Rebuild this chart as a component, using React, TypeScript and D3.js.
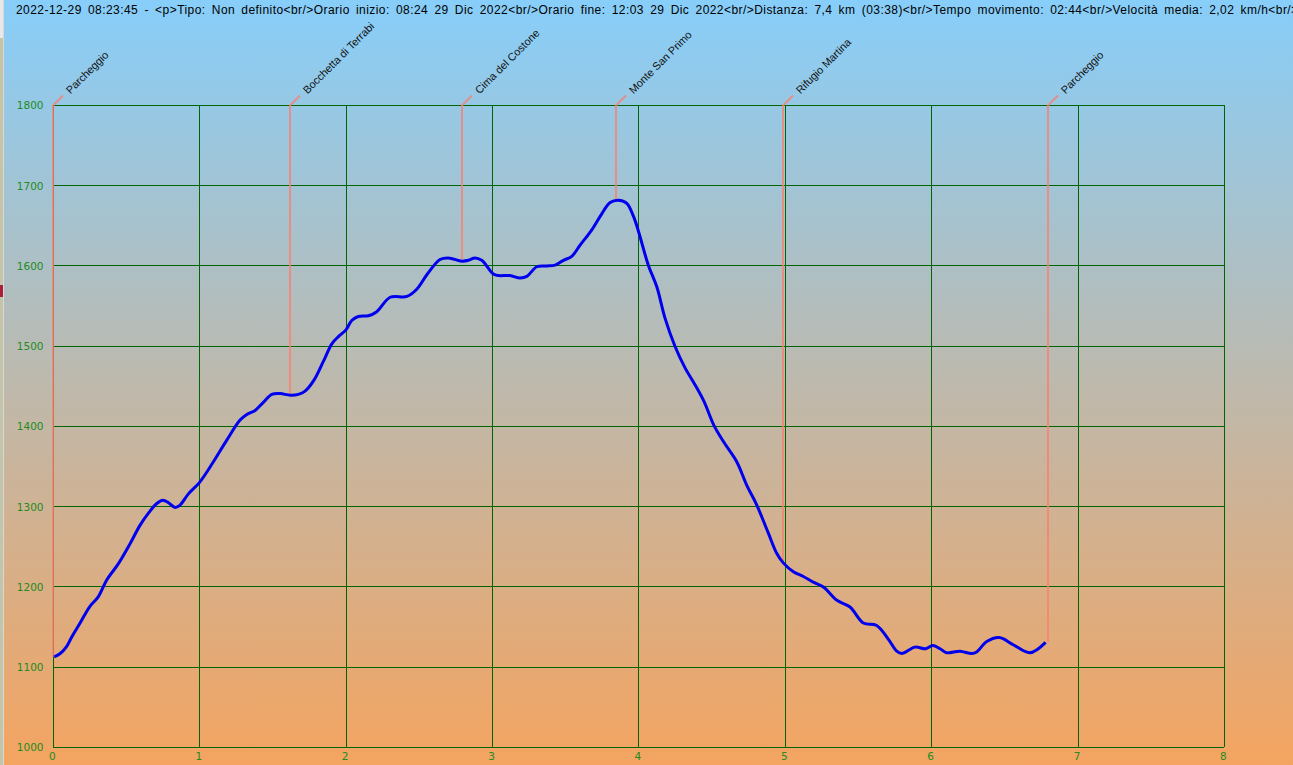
import React from "react";
import * as d3 from "d3";

const titleText = "2022-12-29 08:23:45 - <p>Tipo: Non definito<br/>Orario inizio: 08:24 29 Dic 2022<br/>Orario fine: 12:03 29 Dic 2022<br/>Distanza: 7,4 km (03:38)<br/>Tempo movimento: 02:44<br/>Velocità media: 2,02 km/h<br/>V";

const distanceKm = [0.005,0.046,0.087,0.126,0.182,0.246,0.307,0.365,0.444,0.524,0.592,0.649,0.706,0.747,0.786,0.831,0.865,0.922,0.997,1.093,1.184,1.275,1.321,1.378,1.434,1.492,1.548,1.617,1.673,1.719,1.781,1.844,1.902,1.947,1.997,2.038,2.083,2.152,2.209,2.3,2.414,2.482,2.551,2.641,2.698,2.79,2.835,2.88,2.926,3.005,3.04,3.119,3.188,3.234,3.302,3.37,3.427,3.484,3.541,3.598,3.678,3.746,3.803,3.859,3.917,3.962,3.997,4.064,4.122,4.178,4.246,4.315,4.383,4.445,4.513,4.585,4.668,4.736,4.805,4.884,4.941,4.986,5.055,5.123,5.191,5.26,5.355,5.442,5.533,5.624,5.703,5.761,5.795,5.886,5.959,6.007,6.057,6.102,6.193,6.273,6.307,6.376,6.462,6.557,6.671,6.778];
const elevationM = [1113,1117,1125,1138,1155,1175,1188,1209,1229,1254,1277,1292,1304,1308,1305,1299,1302,1316,1330,1356,1383,1408,1415,1420,1430,1440,1441,1439,1440,1444,1458,1481,1503,1512,1520,1532,1537,1538,1543,1561,1562,1571,1589,1608,1610,1606,1607,1610,1607,1590,1588,1588,1585,1587,1599,1600,1601,1607,1612,1626,1645,1665,1679,1682,1678,1662,1643,1601,1574,1535,1500,1473,1452,1431,1401,1379,1356,1327,1302,1267,1242,1230,1219,1213,1206,1200,1183,1175,1155,1152,1135,1120,1117,1125,1123,1127,1123,1118,1120,1117,1119,1132,1137,1128,1118,1131];

const waypointNames = ["Parcheggio","Bocchetta di Terrabi","Cima del Costone","Monte San Primo","Rifugio Martina","Parcheggio"];
const waypointKm = [0,1.62,2.795,3.845,4.985,6.795];
const waypointElevation = [1113,1439,1606,1682,1230,1131];

const xTicks = [0,1,2,3,4,5,6,7,8];
const yTicks = [1000,1100,1200,1300,1400,1500,1600,1700,1800];

const W = 1293, H = 765;
const x = d3.scaleLinear().domain([0,8]).range([53.45,1224.45]);
const y = d3.scaleLinear().domain([1000,1800]).range([747.45,105.45]);
const line = d3.line<number>()
  .x(i => x(distanceKm[i]))
  .y(i => y(elevationM[i]))
  .curve(d3.curveCatmullRom.alpha(0.5));

const GRID = "#006400";
const TICK = "#228B22";
const FONT = "'Liberation Sans', Arial, sans-serif";

export default function App() {
  return (
    <svg width={W} height={H} viewBox={`0 0 ${W} ${H}`} style={{position:"absolute",left:0,top:0,display:"block"}}>
      <defs>
        <linearGradient id="bg" x1="0" y1="0" x2="0" y2="1">
          <stop offset="0" stopColor="#87CEFA"/>
          <stop offset="1" stopColor="#F4A460"/>
        </linearGradient>
      </defs>
      <rect x={0} y={0} width={3} height={H} fill="#c3c4a8"/>
      <rect x={0} y={0} width={3} height={38} fill="#e8e8e8"/>
      <rect x={0} y={285} width={3} height={12} fill="#a8203a"/>
      <rect x={3} y={0} width={1} height={H} fill="#d8d8d8"/>
      <rect x={4} y={0} width={W-4} height={H} fill="url(#bg)"/>

      <text x={16} y={14} fontFamily={FONT} fontSize={12} wordSpacing={2.45} letterSpacing={0.44} fill="#000">{titleText}</text>

      <g shapeRendering="crispEdges" stroke={GRID} strokeWidth={1}>
        {yTicks.map(t => <line key={t} x1={x(0)} x2={x(8)} y1={y(t)} y2={y(t)}/>)}
        {xTicks.map(t => <line key={t} x1={x(t)} x2={x(t)} y1={y(1800)} y2={y(1000)}/>)}
      </g>

      {yTicks.map(t => (
        <text key={t} x={43.5} y={y(t)+4} textAnchor="end" fontFamily="'DejaVu Sans', sans-serif" fontSize={10.5} fill={TICK}>{t}</text>
      ))}
      {xTicks.map(t => (
        <text key={t} x={x(t)-1} y={760} textAnchor="middle" fontFamily="'DejaVu Sans', sans-serif" fontSize={10.5} fill={TICK}>{t}</text>
      ))}

      {waypointNames.map((name,i) => {
        const px = Math.floor(x(waypointKm[i]));
        const top = y(1800);
        const pts = `${px},${y(waypointElevation[i])} ${px},${top} ${px+10},${top-10}`;
        return (
          <g key={i}>
            <polyline points={pts} fill="none" stroke="#FA8072" strokeOpacity={0.8} strokeWidth={2}/>
            <text transform={`translate(${px+17.5},${top-11}) rotate(-45)`} fontFamily={FONT} fontSize={10.8} fill="#111">{name}</text>
          </g>
        );
      })}

      <path d={line(d3.range(distanceKm.length)) ?? ""} fill="none" stroke="#0000EE" strokeWidth={3} strokeLinejoin="round"/>
    </svg>
  );
}
